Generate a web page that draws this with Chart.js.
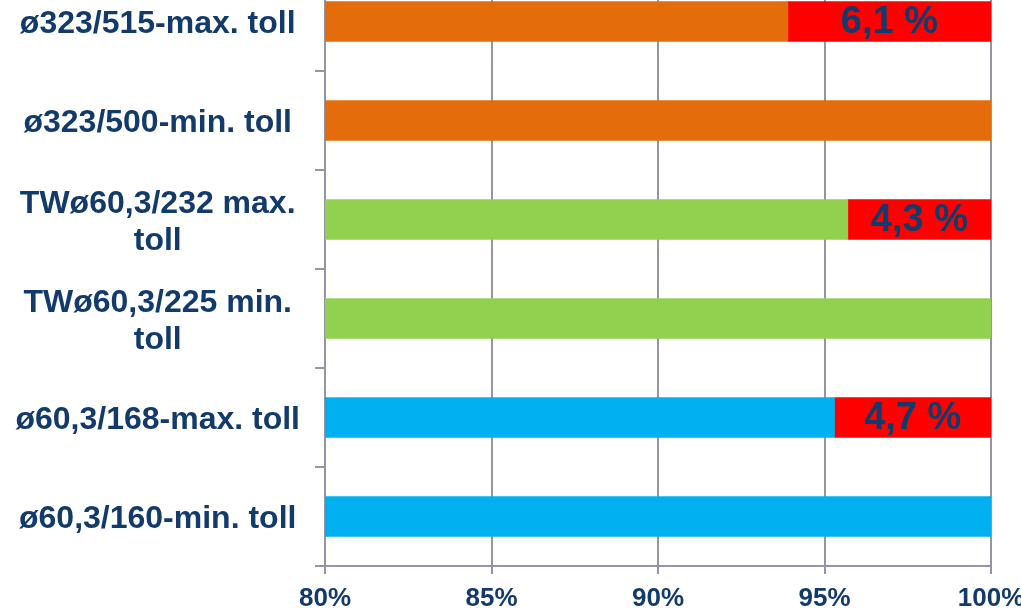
<!DOCTYPE html>
<html>
<head>
<meta charset="utf-8">
<script src="https://cdn.jsdelivr.net/npm/chart.js@4"></script>
<style>
  html, body { margin: 0; padding: 0; width: 1021px; height: 610px; overflow: hidden; background: #ffffff; }
  #wrap { position: absolute; left: 0; top: -28px; width: 1021px; height: 638px; }
</style>
</head>
<body>
<div id="wrap"><canvas id="c"></canvas></div>
<script>
// Pipe variants, top to bottom
const categories = [
  'ø323/515-max. toll',
  'ø323/500-min. toll',
  ['TWø60,3/232 max.', 'toll'],
  ['TWø60,3/225 min.', 'toll'],
  'ø60,3/168-max. toll',
  'ø60,3/160-min. toll'
];
// Share of the reference length (percent)
const baseShare = [93.9, 100, 95.7, 100, 95.3, 100];
// Extra length of the max. tolerance variant (percent)
const tollGap = [6.1, 0, 4.3, 0, 4.7, 0];
// Axis range and step (percent)
const axisMin = 80;
const axisMax = 100;
const axisStep = 5;

const barColors = ['#E46C0A', '#E46C0A', '#92D050', '#92D050', '#00B0F0', '#00B0F0'];
const gapColor = '#FF0000';
const navy = '#123A6B';
const gridGray = '#9494A6';
const fontFamily = '"Liberation Sans", Arial, Helvetica, sans-serif';

// Writes the gap value centred inside each red segment
const gapLabels = {
  id: 'gapLabels',
  afterDatasetsDraw(chart) {
    const meta = chart.getDatasetMeta(1);
    const ctx = chart.ctx;
    ctx.save();
    ctx.font = 'bold 38px ' + fontFamily;
    ctx.fillStyle = navy;
    ctx.textAlign = 'center';
    ctx.textBaseline = 'middle';
    meta.data.forEach((bar, i) => {
      const v = tollGap[i];
      if (!v) return;
      const p = bar.getProps(['x', 'base', 'y'], true);
      ctx.fillText(v.toFixed(1).replace('.', ',') + ' %', (p.x + p.base) / 2, p.y + 1);
    });
    ctx.restore();
  }
};

new Chart(document.getElementById('c'), {
  type: 'bar',
  data: {
    labels: categories,
    datasets: [
      { data: baseShare, backgroundColor: barColors, barThickness: 40, clip: 0, borderWidth: 0 },
      { data: tollGap, backgroundColor: gapColor, barThickness: 40, clip: 0, borderWidth: 0 }
    ]
  },
  options: {
    indexAxis: 'y',
    responsive: true,
    maintainAspectRatio: false,
    animation: false,
    layout: { padding: { left: 0, right: 30, top: 0, bottom: 0 } },
    plugins: { legend: { display: false }, tooltip: { enabled: false } },
    scales: {
      x: {
        stacked: true,
        min: axisMin,
        max: axisMax,
        ticks: {
          stepSize: axisStep,
          callback: v => v + '%',
          font: { family: fontFamily, size: 26, weight: 'bold' },
          color: navy,
          padding: 9,
          maxRotation: 0,
          autoSkip: false
        },
        grid: { color: gridGray, lineWidth: 2, tickLength: 8, drawTicks: true },
        border: { color: gridGray, width: 2 },
        afterFit(s) { s.height = 44; s.paddingLeft = 0; s.paddingRight = 0; }
      },
      y: {
        stacked: true,
        ticks: {
          font: { family: fontFamily, size: 32, weight: 'bold', lineHeight: 1.15 },
          color: navy,
          padding: 15,
          labelOffset: 3,
          crossAlign: 'center',
          autoSkip: false
        },
        grid: { drawOnChartArea: false, color: gridGray, lineWidth: 2, tickLength: 10, offset: true },
        border: { color: gridGray, width: 2 },
        afterFit(s) { s.width = 325; s.paddingTop = 0; s.paddingBottom = 0; }
      }
    }
  },
  plugins: [gapLabels]
});
</script>
</body>
</html>
